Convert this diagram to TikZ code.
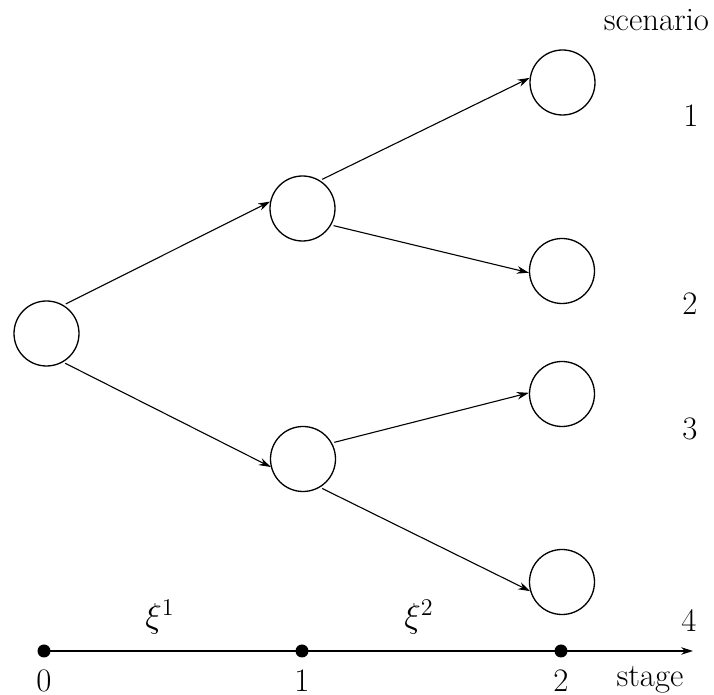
\documentclass[tikz,border=0pt]{standalone}
\usetikzlibrary{arrows.meta}
\begin{document}
\begin{tikzpicture}[x=0.5pt,y=-0.5pt,
  every node/.style={font=\fontsize{16.4}{19}\selectfont},
  state/.style={draw,circle,minimum size=32.5pt,inner sep=0pt,line width=0.65pt},
  edge/.style={line width=0.55pt,-{Stealth[length=6pt,width=3.8pt]},shorten <=1.2pt},
  dotnode/.style={circle,fill,inner sep=0pt,minimum size=6.5pt},
  lbl/.style={inner sep=0pt}]
\useasboundingbox (0,0) rectangle (714,695);
% tree nodes
\node[state] (r) at (46.5,333.5) {};
\node[state] (a) at (302.5,208.5) {};
\node[state] (b) at (303,459) {};
\node[state] (s1) at (562.5,82.5) {};
\node[state] (s2) at (562,271) {};
\node[state] (s3) at (562,394) {};
\node[state] (s4) at (562,582) {};
% edges
\draw[edge] (r.59) -- (a.168);
\draw[edge] (r.-60) -- (b.194);
\draw[edge] (a.58) -- (s1.172);
\draw[edge] (a.-30) -- (s2.183);
\draw[edge] (b.29) -- (s3.178);
\draw[edge] (b.-59) -- (s4.196);
% scenario labels
\node[lbl,anchor=base] (sc) at (656.5,31) {scenario};
\node[lbl] (n1) at (691,116) {1};
\node[lbl] (n2) at (690,304) {2};
\node[lbl] (n3) at (690,429) {3};
\node[lbl] (n4) at (689,621) {4};
% stage axis
\node[dotnode] (t0) at (44,651) {};
\node[dotnode] (t1) at (302,651) {};
\node[dotnode] (t2) at (561,651) {};
\coordinate (tend) at (693,651);
\draw[line width=0.55pt,-{Stealth[length=6pt,width=3.8pt]}] (t0.center) -- (tend);
\node[lbl] (l0) at (44,681) {0};
\node[lbl] (l1) at (302,681) {1};
\node[lbl] (l2) at (561,681) {2};
\node[lbl,anchor=base] (st) at (650,687) {stage};
\node[lbl] (x1) at (160,617) {$\xi^1$};
\node[lbl] (x2) at (419,617) {$\xi^2$};
\end{tikzpicture}
\end{document}
